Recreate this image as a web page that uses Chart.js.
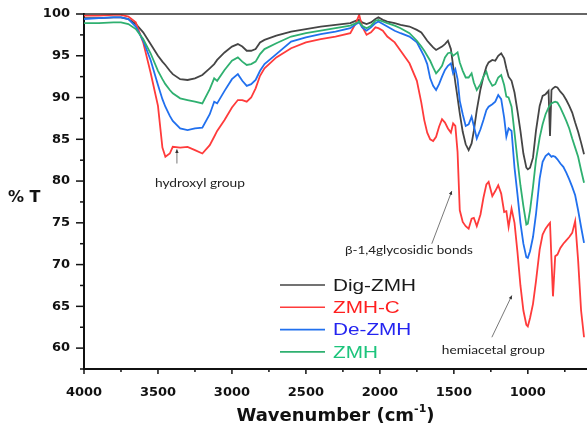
<!DOCTYPE html>
<html>
<head>
<meta charset="utf-8">
<script src="https://cdn.jsdelivr.net/npm/chart.js@4.4.1/dist/chart.umd.min.js"></script>
<style>
  html, body { margin: 0; padding: 0; background: #fff; }
  #wrap { width: 587px; height: 433px; }
</style>
</head>
<body>
<div id="wrap"><canvas id="ftir"></canvas></div>
<script>
// wavenumber grid (cm-1)
const wavenumbers = [4000, 3900, 3800, 3750, 3700, 3650, 3600, 3550, 3500, 3470, 3450, 3420, 3400, 3350, 3300, 3250, 3200, 3150, 3120, 3100, 3050, 3000, 2960, 2930, 2900, 2870, 2840, 2810, 2780, 2700, 2600, 2500, 2400, 2300, 2200, 2160, 2140, 2120, 2090, 2060, 2030, 2010, 1980, 1950, 1900, 1860, 1800, 1750, 1720, 1700, 1680, 1660, 1640, 1620, 1600, 1580, 1560, 1540, 1520, 1505, 1490, 1475, 1460, 1440, 1420, 1400, 1380, 1365, 1345, 1320, 1300, 1280, 1265, 1240, 1220, 1200, 1180, 1160, 1145, 1130, 1110, 1090, 1070, 1050, 1030, 1010, 1000, 985, 965, 945, 920, 900, 880, 860, 850, 840, 830, 815, 800, 780, 760, 740, 720, 700, 680, 660, 640, 620];

const digZmh = [99.5, 99.5, 99.6, 99.6, 99.4, 98.8, 97.8, 96.4, 95.0, 94.3, 93.9, 93.2, 92.8, 92.2, 92.1, 92.3, 92.7, 93.5, 94.0, 94.5, 95.4, 96.1, 96.4, 96.1, 95.6, 95.6, 95.8, 96.6, 96.9, 97.4, 97.9, 98.2, 98.5, 98.7, 98.9, 99.2, 99.3, 99.0, 98.8, 99.0, 99.4, 99.6, 99.3, 99.1, 98.9, 98.7, 98.5, 98.1, 97.8, 97.3, 96.8, 96.4, 96.0, 95.7, 95.9, 96.1, 96.4, 96.8, 95.8, 93.8, 91.8, 90.0, 88.1, 85.9, 84.4, 83.7, 84.5, 86.0, 88.5, 91.0, 92.5, 93.7, 94.2, 94.5, 94.4, 95.0, 95.3, 94.7, 93.5, 92.5, 92.0, 90.6, 88.4, 86.0, 83.3, 81.6, 81.4, 81.6, 82.8, 86.0, 89.0, 90.2, 90.4, 90.8, 85.4, 90.9, 91.1, 91.3, 91.2, 90.7, 90.3, 89.7, 89.0, 88.2, 87.0, 85.9, 84.6, 83.2];

const zmhC = [99.8, 99.8, 99.9, 99.9, 99.7, 99.0, 96.6, 93.0, 89.0, 84.0, 82.9, 83.3, 84.1, 84.0, 84.1, 83.7, 83.3, 84.3, 85.3, 86.0, 87.3, 88.8, 89.7, 89.7, 89.5, 90.0, 91.1, 92.6, 93.5, 94.8, 95.9, 96.6, 97.0, 97.3, 97.7, 99.0, 99.9, 98.5, 97.5, 97.8, 98.4, 98.3, 98.0, 97.3, 96.6, 95.6, 94.1, 92.0, 89.4, 87.3, 85.8, 85.0, 84.8, 85.3, 86.5, 87.4, 87.0, 86.3, 85.8, 86.9, 86.6, 83.5, 76.5, 75.1, 74.6, 74.3, 75.5, 75.6, 74.6, 76.0, 78.0, 79.6, 79.9, 78.2, 78.8, 79.5, 78.5, 76.3, 76.4, 74.5, 76.7, 75.0, 71.5, 67.5, 64.5, 62.8, 62.6, 63.6, 65.3, 68.0, 71.8, 73.6, 74.3, 74.8, 75.0, 70.5, 66.2, 71.0, 71.2, 72.0, 72.5, 72.9, 73.3, 73.8, 75.2, 70.5, 64.5, 61.3];

const deZmh = [99.4, 99.5, 99.6, 99.6, 99.4, 98.5, 96.8, 94.5, 91.5, 89.8, 88.9, 87.8, 87.2, 86.3, 86.1, 86.3, 86.4, 88.0, 89.5, 89.3, 90.8, 92.2, 92.8, 92.0, 91.4, 91.6, 92.1, 93.2, 94.0, 95.2, 96.7, 97.2, 97.6, 97.9, 98.3, 98.8, 99.0, 98.4, 98.0, 98.4, 98.9, 99.1, 98.8, 98.5, 98.0, 97.7, 97.3, 96.6, 95.6, 94.9, 94.0, 92.3, 91.4, 90.9, 91.6, 92.5, 93.3, 93.8, 94.1, 92.9, 93.4, 92.2, 89.6, 88.0, 86.6, 86.8, 87.7, 86.6, 85.1, 86.2, 87.3, 88.5, 88.9, 89.2, 89.5, 90.3, 89.8, 87.6, 85.3, 86.3, 86.0, 81.6, 78.4, 75.0, 72.5, 70.9, 70.8, 71.6, 73.3, 76.0, 80.3, 82.3, 83.0, 83.3, 83.1, 82.9, 83.0, 82.9, 82.6, 82.1, 81.7, 81.0, 80.2, 79.3, 78.3, 76.5, 74.5, 72.6];

const zmh = [98.9, 98.9, 99.0, 99.0, 98.8, 98.2, 97.0, 95.3, 93.2, 92.2, 91.6, 90.9, 90.5, 89.9, 89.7, 89.5, 89.3, 91.0, 92.3, 92.0, 93.3, 94.4, 94.8, 94.3, 93.9, 94.0, 94.3, 95.2, 95.8, 96.5, 97.3, 97.7, 98.0, 98.3, 98.6, 98.9, 99.1, 98.6, 98.3, 98.6, 99.2, 99.3, 99.1, 98.9, 98.6, 98.3, 97.7, 96.8, 96.1, 95.6, 95.0, 94.4, 93.6, 92.9, 93.3, 93.8, 94.8, 95.3, 95.4, 95.0, 95.2, 95.4, 94.2, 93.2, 92.4, 92.4, 92.9, 91.8, 90.9, 91.6, 92.5, 93.1, 92.2, 91.4, 91.6, 92.4, 92.7, 91.5, 90.1, 90.0, 88.9, 85.8, 82.5, 79.5, 77.0, 74.8, 74.9, 76.5, 79.3, 82.5, 85.2, 86.8, 88.0, 88.8, 89.1, 89.3, 89.4, 89.5, 89.4, 88.8, 88.0, 87.2, 86.3, 85.1, 84.0, 82.9, 81.3, 79.8];

const seriesNames = ['Dig-ZMH', 'ZMH-C', 'De-ZMH', 'ZMH'];
const lineColors = ['#454545', '#ff3b3b', '#2170ee', '#2fb070'];
const textColors = ['#1a1a1a', '#ff1f1f', '#2424f0', '#1cc47c'];

const xTicks = [4000, 3500, 3000, 2500, 2000, 1500, 1000];
const yTicks = [60, 65, 70, 75, 80, 85, 90, 95, 100];

// callouts, placed in data units
const notes = [
  { text: 'hydroxyl group', x: 3216, y: 79.7, width: 90, from: [3372, 82.1], to: [3372, 83.8] },
  { text: 'β-1,4glycosidic bonds', x: 1804, y: 71.7, width: 128, from: [1649, 72.5], to: [1514, 78.8] },
  { text: 'hemiacetal group', x: 1233, y: 59.8, width: 103, from: [1243, 61.3], to: [1108, 66.3] }
];

const series = [digZmh, zmhC, deZmh, zmh];

function stretchText(ctx, text, x, y, sx) {
  ctx.save();
  ctx.translate(x, y);
  ctx.scale(sx, 1);
  ctx.fillText(text, 0, 0);
  ctx.restore();
}

const decor = {
  id: 'decor',
  afterDraw(chart) {
    const { ctx, chartArea: a, scales: { x, y } } = chart;
    ctx.save();

    // top frame line
    ctx.strokeStyle = '#333';
    ctx.lineWidth = 1.5;
    ctx.beginPath();
    ctx.moveTo(a.left, a.top);
    ctx.lineTo(a.right, a.top);
    ctx.stroke();

    // major / minor tick marks
    ctx.strokeStyle = '#111';
    ctx.lineWidth = 1.5;
    x.ticks.forEach(t => {
      const px = x.getPixelForValue(t.value);
      const len = xTicks.includes(t.value) ? 5 : 3;
      ctx.beginPath();
      ctx.moveTo(px, a.bottom);
      ctx.lineTo(px, a.bottom + len);
      ctx.stroke();
    });
    y.ticks.forEach(t => {
      const py = y.getPixelForValue(t.value);
      const len = yTicks.includes(t.value) ? 8 : 4;
      ctx.beginPath();
      ctx.moveTo(a.left - len, py);
      ctx.lineTo(a.left, py);
      ctx.stroke();
    });

    // axis titles
    ctx.fillStyle = '#111';
    ctx.textBaseline = 'middle';
    ctx.textAlign = 'left';
    ctx.font = 'bold 16px "DejaVu Sans"';
    ctx.fillText('% T', 8, 198);

    const main = 'Wavenumber (cm';
    ctx.font = 'bold 18px "DejaVu Sans"';
    const w1 = ctx.measureText(main).width;
    ctx.font = 'bold 11px "DejaVu Sans"';
    const w2 = ctx.measureText('-1').width;
    ctx.font = 'bold 18px "DejaVu Sans"';
    const w3 = ctx.measureText(')').width;
    let tx = (a.left + a.right) / 2 - (w1 + w2 + w3) / 2;
    const ty = 416;
    ctx.fillText(main, tx, ty);
    tx += w1;
    ctx.font = 'bold 11px "DejaVu Sans"';
    ctx.fillText('-1', tx, ty - 7);
    tx += w2;
    ctx.font = 'bold 18px "DejaVu Sans"';
    ctx.fillText(')', tx, ty);

    // legend inside the plot
    seriesNames.forEach((name, i) => {
      const ly = 285 + i * 22.3;
      ctx.strokeStyle = lineColors[i];
      ctx.lineWidth = 1.6;
      ctx.beginPath();
      ctx.moveTo(280, ly);
      ctx.lineTo(325, ly);
      ctx.stroke();
      ctx.fillStyle = textColors[i];
      ctx.font = '17px "Liberation Sans"';
      stretchText(ctx, name, 333, ly + 1, 1.22);
    });

    // callouts with small arrows
    notes.forEach(n => {
      const fx = x.getPixelForValue(n.from[0]), fy = y.getPixelForValue(n.from[1]);
      const ex = x.getPixelForValue(n.to[0]), ey = y.getPixelForValue(n.to[1]);
      ctx.strokeStyle = '#555';
      ctx.fillStyle = '#333';
      ctx.lineWidth = 0.8;
      ctx.beginPath();
      ctx.moveTo(fx, fy);
      ctx.lineTo(ex, ey);
      ctx.stroke();
      const ang = Math.atan2(ey - fy, ex - fx);
      ctx.beginPath();
      ctx.moveTo(ex, ey);
      ctx.lineTo(ex - 4 * Math.cos(ang - 0.45), ey - 4 * Math.sin(ang - 0.45));
      ctx.lineTo(ex - 4 * Math.cos(ang + 0.45), ey - 4 * Math.sin(ang + 0.45));
      ctx.closePath();
      ctx.fill();

      ctx.fillStyle = '#222';
      ctx.font = '12px Lato';
      const mw = ctx.measureText(n.text).width;
      const sx = n.width / mw;
      const cx = x.getPixelForValue(n.x), cy = y.getPixelForValue(n.y);
      stretchText(ctx, n.text, cx - n.width / 2, cy, sx);
    });

    ctx.restore();
  }
};

const ctx = document.getElementById('ftir').getContext('2d');

const ftirChart = new Chart(ctx, {
  type: 'line',
  data: {
    labels: wavenumbers,
    datasets: series.map((vals, i) => ({
      label: seriesNames[i],
      data: vals.map((v, k) => ({ x: wavenumbers[k], y: v })),
      borderColor: lineColors[i],
      borderWidth: 1.8,
      pointRadius: 0,
      tension: 0,
      fill: false
    })).reverse()
  },
  options: {
    responsive: true,
    maintainAspectRatio: false,
    animation: false,
    layout: { padding: { top: 14, right: 0, left: 0, bottom: 0 } },
    plugins: {
      legend: { display: false },
      tooltip: { enabled: false }
    },
    scales: {
      x: {
        type: 'linear',
        reverse: true,
        min: 600,
        max: 4000,
        afterFit: s => { s.height = 64; s.paddingLeft = 0; s.paddingRight = 0; },
        grid: { display: false, drawTicks: false },
        border: { display: true, color: '#111', width: 2 },
        ticks: {
          stepSize: 250,
          includeBounds: false,
          autoSkip: false,
          maxRotation: 0,
          padding: 16,
          color: '#111',
          font: { family: 'DejaVu Sans', weight: 'bold', size: 13 },
          callback: v => xTicks.includes(v) ? String(v) : ''
        }
      },
      y: {
        min: 57.5,
        max: 100,
        afterFit: s => { s.width = 84; s.paddingTop = 0; s.paddingBottom = 0; },
        grid: { display: false, drawTicks: false },
        border: { display: true, color: '#111', width: 2 },
        ticks: {
          stepSize: 2.5,
          autoSkip: false,
          padding: 14,
          color: '#111',
          font: { family: 'DejaVu Sans', weight: 'bold', size: 13 },
          callback: v => yTicks.includes(v) ? String(v) : ''
        }
      }
    }
  },
  plugins: [decor]
});
</script>
</body>
</html>
